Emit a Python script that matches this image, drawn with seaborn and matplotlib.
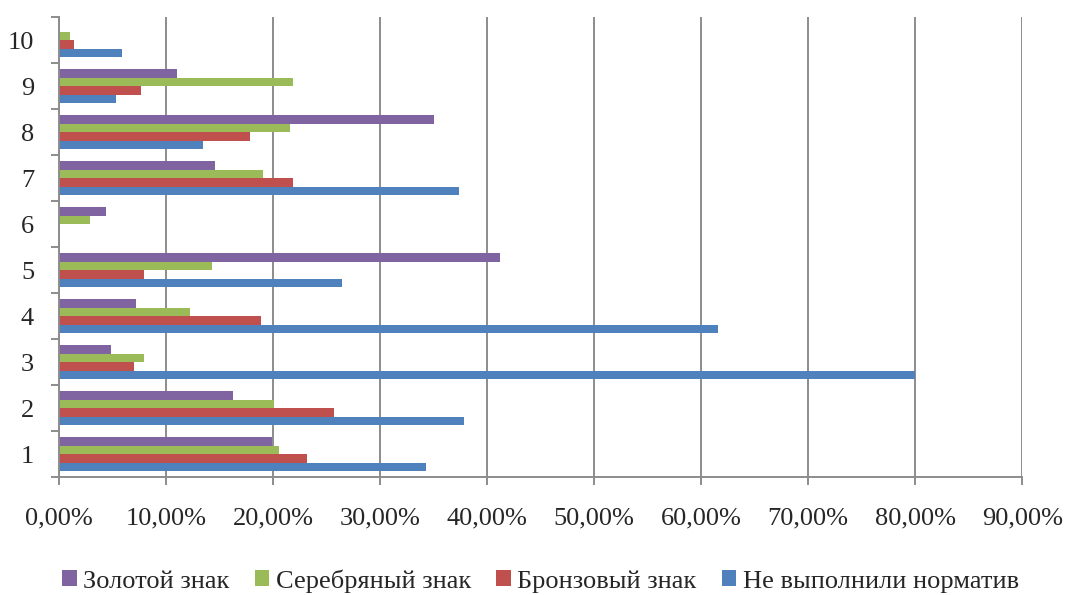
import seaborn as sns
import pandas as pd
import matplotlib.pyplot as plt
from matplotlib.ticker import FuncFormatter, FixedLocator

# Data (percent)
groups = ['1', '2', '3', '4', '5', '6', '7', '8', '9', '10']
series = ['Золотой знак', 'Серебряный знак', 'Бронзовый знак', 'Не выполнили норматив']
gold = [19.9, 16.3, 4.9, 7.2, 41.2, 4.4, 14.6, 35.0, 11.0, 0.0]
silver = [20.6, 20.1, 7.9, 12.2, 14.3, 2.9, 19.1, 21.6, 21.9, 1.0]
bronze = [23.2, 25.7, 7.0, 18.9, 7.9, 0.0, 21.9, 17.8, 7.7, 1.4]
failed = [34.3, 37.8, 80.0, 61.6, 26.4, 0.0, 37.4, 13.5, 5.3, 5.9]
colors = ['#8064A2', '#9BBB59', '#C0504D', '#4F81BD']

rows = []
for name, vals in zip(series, [gold, silver, bronze, failed]):
    for g, v in zip(groups, vals):
        rows.append({'group': g, 'series': name, 'value': v / 100})
df = pd.DataFrame(rows)

sns.set_style('white')
plt.rcParams['font.family'] = ['Liberation Serif', 'DejaVu Serif']

fig = plt.figure(figsize=(10.67, 5.95), dpi=100)
ax = fig.add_axes([0.0553, 0.198, 0.9027, 0.773])

sns.barplot(data=df, y='group', x='value', hue='series', order=groups[::-1],
            hue_order=series, palette=colors, saturation=1, orient='h',
            width=0.74, linewidth=0, ax=ax)

ax.set_xlim(0, 0.9)
ax.set_ylim(9.5, -0.5)
ax.set_xticks([i / 10 for i in range(10)])
ax.xaxis.set_major_formatter(FuncFormatter(lambda v, p: f'{v * 100:.2f}%'.replace('.', ',')))
ax.grid(axis='x', color='#8C8C8C', linewidth=1.4)
ax.set_axisbelow(True)
ax.set_xlabel('')
ax.set_ylabel('')

for s in ['top', 'right']:
    ax.spines[s].set_visible(False)
for s in ['left', 'bottom']:
    ax.spines[s].set_color('#8C8C8C')
    ax.spines[s].set_linewidth(1.4)

ax.tick_params(axis='x', length=6, width=1.4, color='#8C8C8C', direction='out',
               labelsize=19, pad=16, bottom=True)
ax.tick_params(axis='y', length=0, labelsize=19, pad=18)
ax.yaxis.set_minor_locator(FixedLocator([i + 0.5 for i in range(-1, 10)]))
ax.tick_params(axis='y', which='minor', length=6, width=1.4, color='#8C8C8C',
               direction='out', left=True)

ax.legend(loc='upper center', bbox_to_anchor=(0.5, -0.16), ncol=4, frameon=False,
          fontsize=19, handlelength=0.55, handleheight=0.55, handletextpad=0.25,
          columnspacing=0.95, borderpad=0.2)

fig.savefig('out.png', dpi=100)
